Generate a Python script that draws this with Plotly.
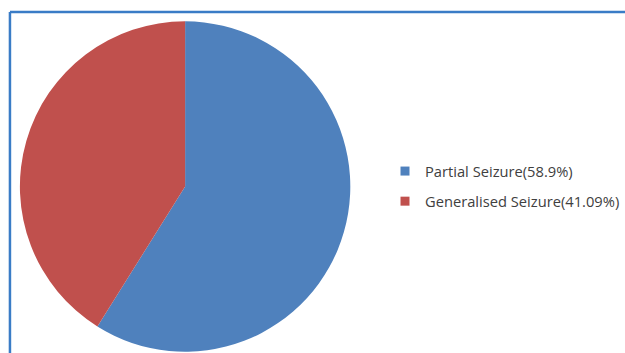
import plotly.graph_objects as go

labels = ["Partial Seizure(58.9%)", "Generalised Seizure(41.09%)"]
values = [58.9, 41.09]
colors = ["#4f81bd", "#c0504d"]

W, H = 625, 353

fig = go.Figure()
fig.add_trace(go.Pie(
    labels=labels, values=values, sort=False, direction="clockwise", rotation=0,
    marker=dict(colors=colors, line=dict(width=0)), textinfo="none",
    hoverinfo="label+percent", showlegend=False,
    domain=dict(x=[20 / W, 352 / W], y=[1 / H, 332 / H]),
))
for lab, col in zip(labels, colors):
    fig.add_trace(go.Scatter(
        x=[None], y=[None], mode="markers", name=lab, legendgroup=lab,
        marker=dict(symbol="square", size=9, color=col),
        xaxis="x", yaxis="y",
    ))

fig.update_layout(
    width=W, height=H, margin=dict(l=0, r=0, t=0, b=0),
    paper_bgcolor="white", plot_bgcolor="white",
    xaxis=dict(visible=False), yaxis=dict(visible=False),
    legend=dict(x=387 / W, xanchor="left", y=1 - 155 / H, yanchor="top",
                traceorder="grouped", tracegroupgap=8, itemwidth=30,
                font=dict(family="Open Sans", size=14.7, color="#404040"),
                bgcolor="rgba(0,0,0,0)"),
    shapes=[
        dict(type="line", xref="paper", yref="paper", x0=10 / W, x1=1.01, y0=1 - 12 / H, y1=1 - 12 / H,
             line=dict(color="#3a7cc6", width=2.5)),
        dict(type="line", xref="paper", yref="paper", x0=10 / W, x1=10 / W, y0=1 - 12 / H, y1=-0.01,
             line=dict(color="#3a7cc6", width=2.5)),
    ],
)
fig.write_html("out.html")
